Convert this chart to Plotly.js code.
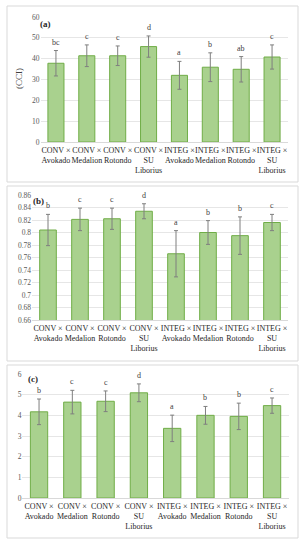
<!DOCTYPE html>
<html>
<head>
<meta charset="utf-8">
<script src="https://cdn.plot.ly/plotly-3.0.1.min.js"></script>
<style>html,body{margin:0;padding:0;background:#fff;}#chart{width:305px;height:550px;}</style>
</head>
<body>
<div id="chart"></div>
<script>
var categories = ["CONV ×<br>Avokado","CONV ×<br>Medalion","CONV ×<br>Rotondo","CONV ×<br>SU<br>Liborius","INTEG ×<br>Avokado","INTEG ×<br>Medalion","INTEG ×<br>Rotondo","INTEG ×<br>SU<br>Liborius"];

var aValues = [37.8, 41.4, 41.4, 45.8, 32.0, 35.9, 34.9, 40.8];
var aErrors = [6.1, 5.2, 4.7, 5.1, 6.7, 6.9, 6.1, 5.8];
var aLetters = ["bc","c","c","d","a","b","ab","c"];

var bValues = [0.804, 0.821, 0.822, 0.834, 0.766, 0.800, 0.795, 0.816];
var bErrors = [0.025, 0.018, 0.017, 0.012, 0.037, 0.019, 0.030, 0.013];
var bLetters = ["b","c","c","d","a","b","b","c"];

var cValues = [4.17, 4.64, 4.68, 5.09, 3.37, 4.00, 3.95, 4.47];
var cErrors = [0.62, 0.57, 0.50, 0.43, 0.64, 0.43, 0.64, 0.37];
var cLetters = ["b","c","c","d","a","b","b","c"];

var aTicks = [0,10,20,30,40,50,60];
var bTicks = [0.66,0.68,0.70,0.72,0.74,0.76,0.78,0.80,0.82,0.84,0.86];
var bTickText = ["0.66","0.68","0.7","0.72","0.74","0.76","0.78","0.8","0.82","0.84","0.86"];
var cTicks = [0,1,2,3,4,5,6];

var serif = "Liberation Serif, Times New Roman, serif";
var fill = "#a9d18e", edge = "#70ad47", errCol = "#7f7f7f";

function barTrace(vals, errs, xa, ya) {
  return {
    type: "bar", x: categories, y: vals, xaxis: xa, yaxis: ya,
    marker: {color: fill, line: {color: edge, width: 1}},
    error_y: {type: "data", array: errs, visible: true, color: errCol, thickness: 1, width: 2},
    hoverinfo: "none", showlegend: false
  };
}

var data = [
  barTrace(aValues, aErrors, "x", "y"),
  barTrace(bValues, bErrors, "x2", "y2"),
  barTrace(cValues, cErrors, "x3", "y3")
];

var annotations = [];
function letters(vals, errs, lets, xa, ya) {
  for (var i = 0; i < categories.length; i++) {
    annotations.push({
      x: categories[i], y: vals[i] + errs[i], xref: xa, yref: ya,
      text: lets[i], showarrow: false, yanchor: "bottom", yshift: 2,
      font: {family: serif, size: 8, color: "#404040"}
    });
  }
}
letters(aValues, aErrors, aLetters, "x", "y");
letters(bValues, bErrors, bLetters, "x2", "y2");
letters(cValues, cErrors, cLetters, "x3", "y3");

annotations.push({xref:"paper", yref:"paper", x:38/305, y:1-24/550, text:"<b>(a)</b>", showarrow:false, xanchor:"left", yanchor:"middle", font:{family:serif,size:9,color:"#262626"}});
annotations.push({xref:"paper", yref:"paper", x:31/305, y:1-201/550, text:"<b>(b)</b>", showarrow:false, xanchor:"left", yanchor:"middle", font:{family:serif,size:9,color:"#262626"}});
annotations.push({xref:"paper", yref:"paper", x:26/305, y:1-379/550, text:"<b>(c)</b>", showarrow:false, xanchor:"left", yanchor:"middle", font:{family:serif,size:9,color:"#262626"}});
annotations.push({xref:"paper", yref:"paper", x:19/305, y:1-79/550, text:"(CCI)", textangle:-90, showarrow:false, xanchor:"center", yanchor:"middle", font:{family:serif,size:9,color:"#404040"}});

function xax(domain) {
  return {domain: domain, type: "category", showgrid: false, zeroline: false,
    showline: true, linecolor: "#d9d9d9", linewidth: 1, ticks: "",
    tickfont: {family: serif, size: 8, color: "#262626"}, tickangle: 0, automargin: false, fixedrange: true};
}
function yax(domain, range, tv, tt) {
  var o = {domain: domain, range: range, showgrid: true, gridcolor: "#e6e6e6", gridwidth: 1,
    zeroline: false, showline: false, ticks: "", tickmode: "array", tickvals: tv,
    tickfont: {family: serif, size: 7.5, color: "#595959"}, automargin: false, fixedrange: true};
  if (tt) o.ticktext = tt;
  return o;
}

var rectStyle = {color: "#d9d9d9", width: 1};
var layout = {
  width: 305, height: 550,
  margin: {l: 0, r: 0, t: 0, b: 0},
  paper_bgcolor: "#ffffff", plot_bgcolor: "#ffffff",
  bargap: 0.48,
  xaxis: Object.assign(xax([40.5/305, 287.5/305]), {anchor: "y"}),
  yaxis: Object.assign(yax([1-142/550, 1-17/550], [0, 60], aTicks), {anchor: "x"}),
  xaxis2: Object.assign(xax([32/305, 288/305]), {anchor: "y2"}),
  yaxis2: Object.assign(yax([1-320/550, 1-195/550], [0.66, 0.86], bTicks, bTickText), {anchor: "x2"}),
  xaxis3: Object.assign(xax([22.4/305, 288.7/305]), {anchor: "y3"}),
  yaxis3: Object.assign(yax([1-498/550, 1-374/550], [0, 6], cTicks), {anchor: "x3"}),
  annotations: annotations,
  shapes: [
    {type:"rect", xref:"paper", yref:"paper", x0:7/305, x1:298/305, y0:1-182/550, y1:1-6/550, line:rectStyle},
    {type:"rect", xref:"paper", yref:"paper", x0:7/305, x1:298/305, y0:1-361/550, y1:1-186/550, line:rectStyle},
    {type:"rect", xref:"paper", yref:"paper", x0:7/305, x1:298/305, y0:1-538/550, y1:1-365/550, line:rectStyle}
  ]
};

Plotly.newPlot("chart", data, layout, {displayModeBar: false, staticPlot: true});
</script>
</body>
</html>
